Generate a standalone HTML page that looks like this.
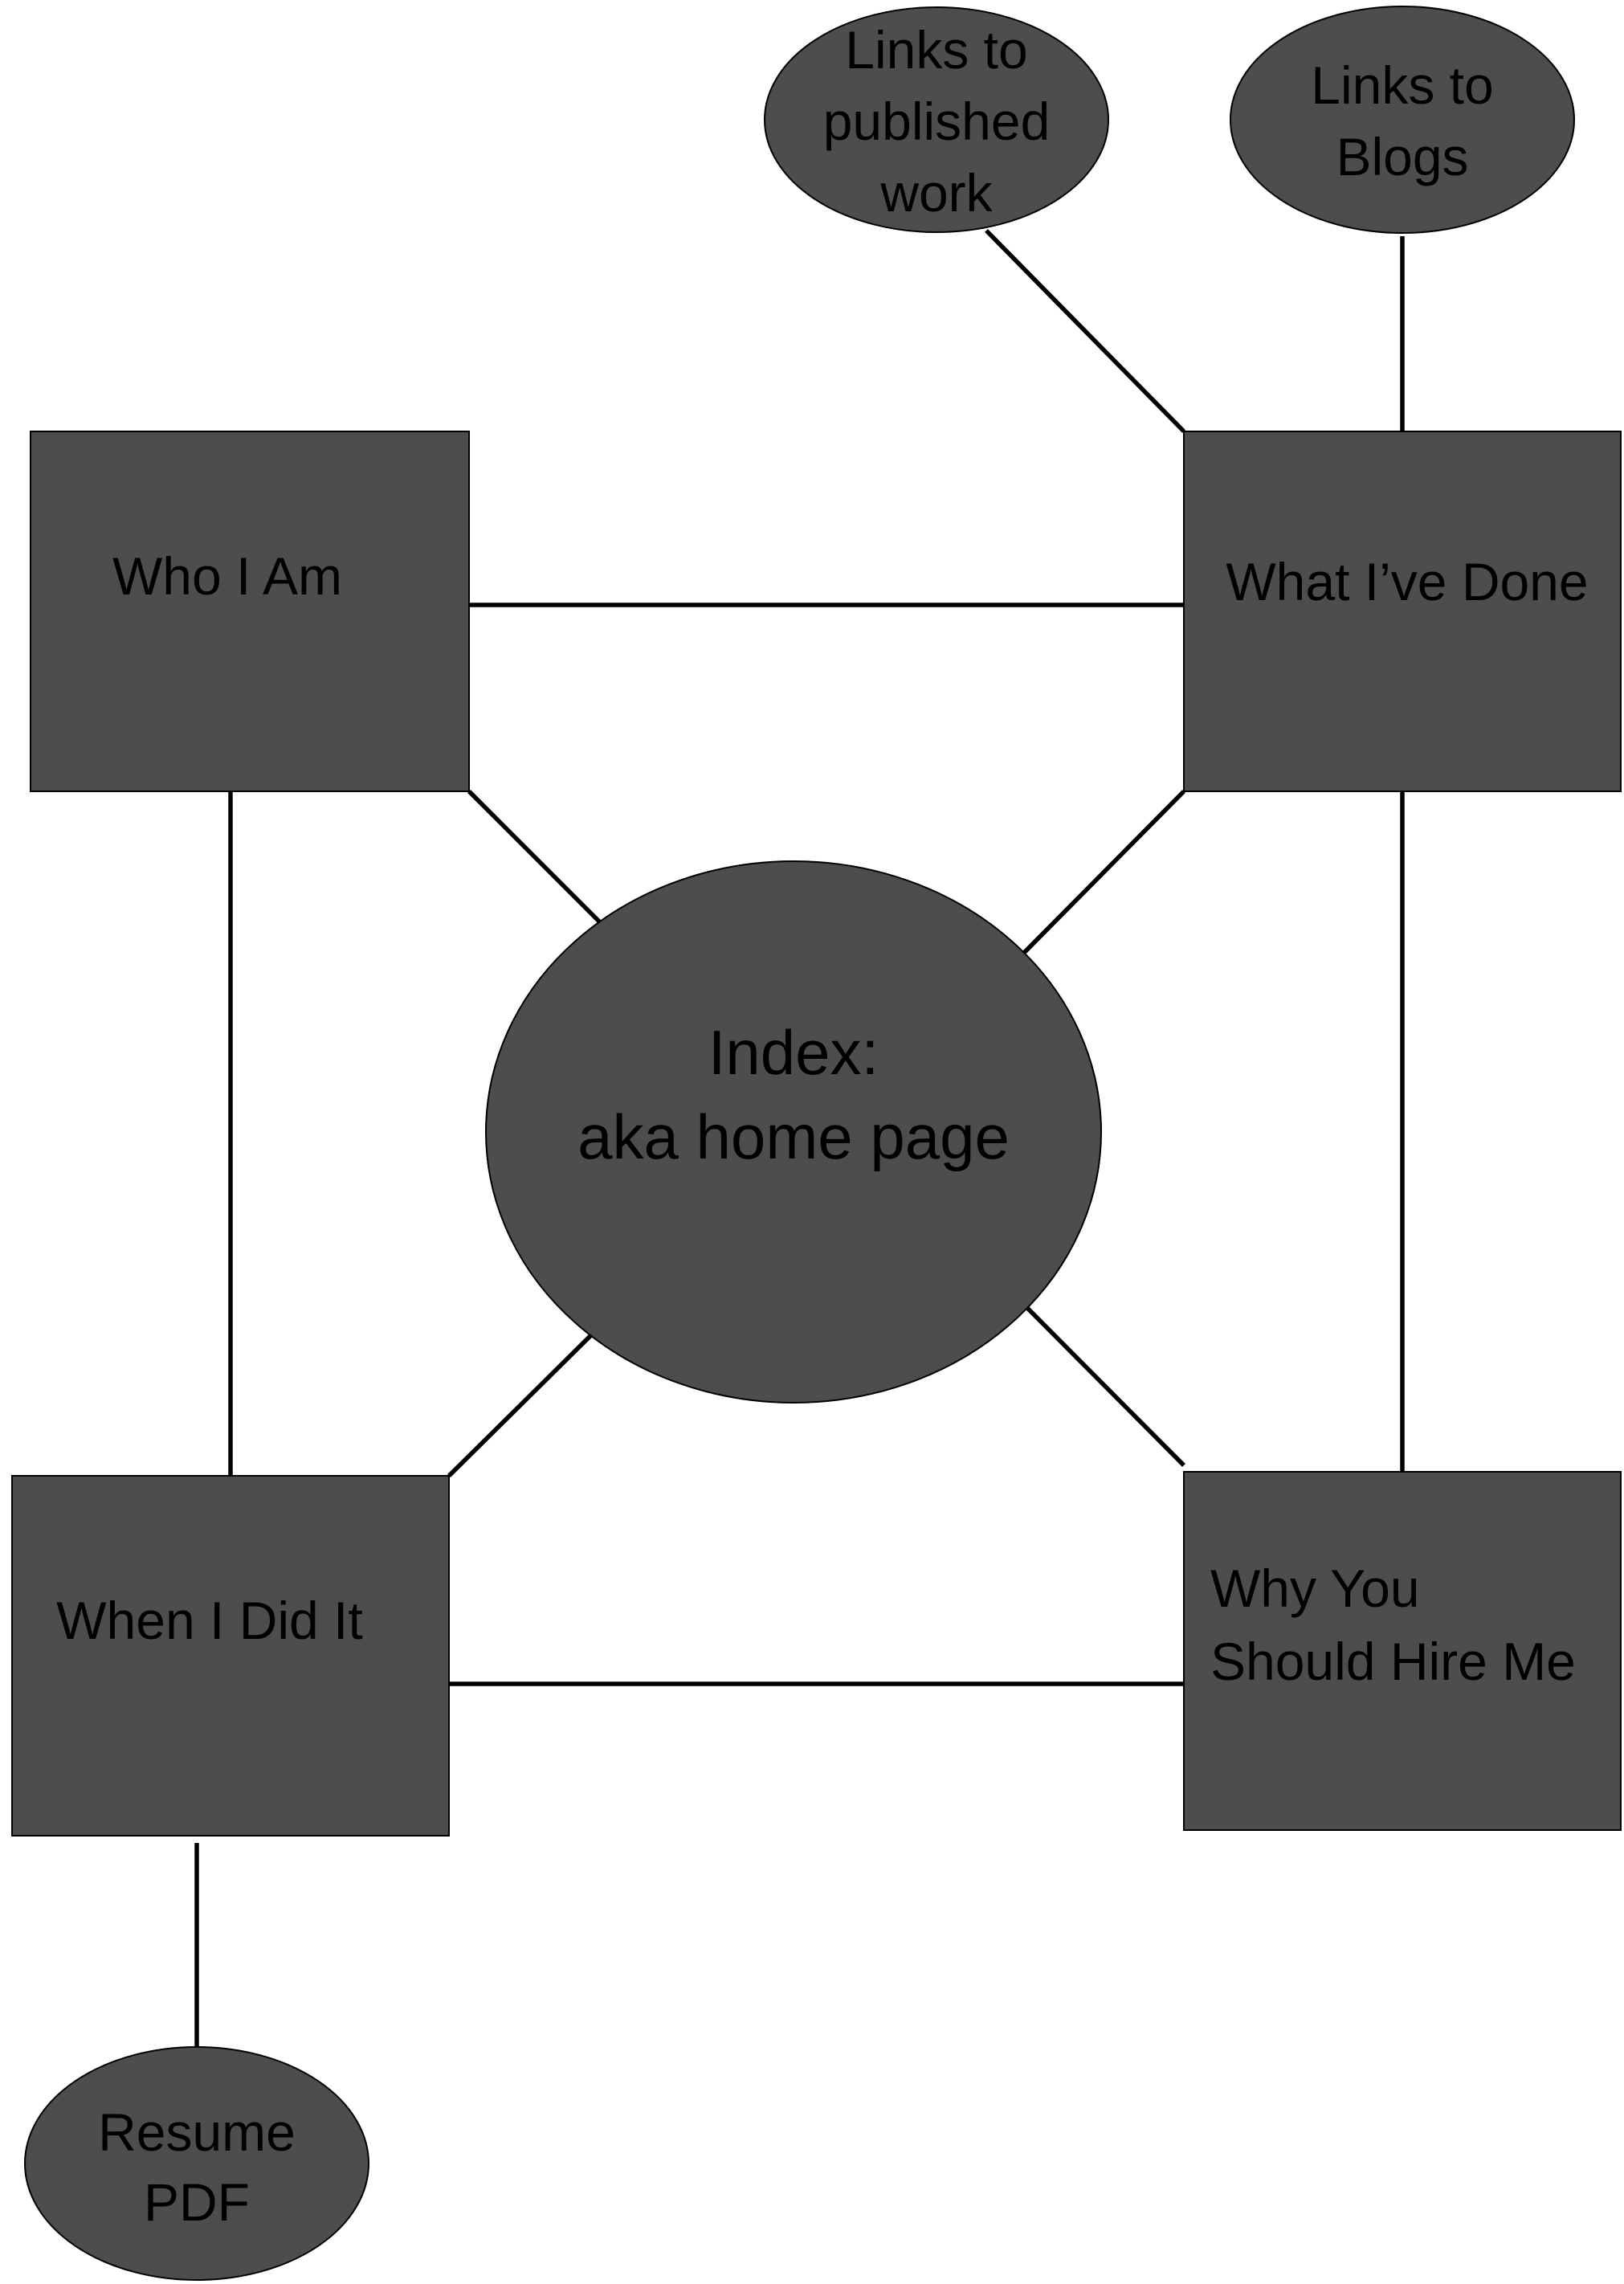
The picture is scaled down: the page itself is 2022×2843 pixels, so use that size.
<!DOCTYPE html>
<html><head><meta charset="utf-8"><style>html,body{margin:0;padding:0;background:#fff}svg{display:block}</style></head>
<body>
<svg width="2022" height="2843" viewBox="0 0 2022 2843" xmlns="http://www.w3.org/2000/svg">
<g stroke="#000" stroke-width="5.5" fill="none">
<line x1="584" y1="753" x2="1474" y2="753"/>
<line x1="287" y1="985" x2="287" y2="1837"/>
<line x1="1746" y1="985" x2="1746" y2="1837"/>
<line x1="559" y1="2096" x2="1474" y2="2096"/>
<line x1="584" y1="985" x2="751" y2="1152"/>
<line x1="1474" y1="985" x2="1264" y2="1197"/>
<line x1="559" y1="1837" x2="744" y2="1654"/>
<line x1="1279" y1="1628" x2="1474" y2="1824"/>
<line x1="1228" y1="287" x2="1474" y2="537"/>
<line x1="1746" y1="294" x2="1746" y2="548"/>
<line x1="245" y1="2294" x2="245" y2="2548"/>
</g>
<g fill="#4d4d4d" stroke="#000" stroke-width="2">
<rect x="38" y="537" width="546" height="448"/>
<rect x="1474" y="537" width="544" height="448"/>
<rect x="15" y="1837" width="544" height="448"/>
<rect x="1474" y="1832" width="544" height="446"/>
<ellipse cx="988" cy="1409" rx="383" ry="337"/>
<ellipse cx="1166" cy="149" rx="214" ry="140"/>
<ellipse cx="1746" cy="149" rx="214" ry="141"/>
<ellipse cx="245" cy="2693" rx="214" ry="145"/>
</g>
<g font-family="Liberation Sans, sans-serif" font-size="66" fill="#000" text-anchor="middle">
<text x="283" y="740">Who I Am</text>
<text x="1752" y="747">What I’ve Done</text>
<text x="261" y="2040">When I Did It</text>
<text x="1507" y="2000" text-anchor="start">Why You</text>
<text x="1507" y="2091" text-anchor="start">Should Hire Me</text>
<text x="1166" y="85">Links to</text>
<text x="1166" y="174">published</text>
<text x="1166" y="263">work</text>
<text x="1746" y="129">Links to</text>
<text x="1746" y="218">Blogs</text>
<text x="245" y="2677">Resume</text>
<text x="245" y="2764">PDF</text>
<text x="988" y="1337" font-size="78">Index:</text>
<text x="988" y="1442" font-size="78">aka home page</text>
</g>
</svg>
</body></html>
